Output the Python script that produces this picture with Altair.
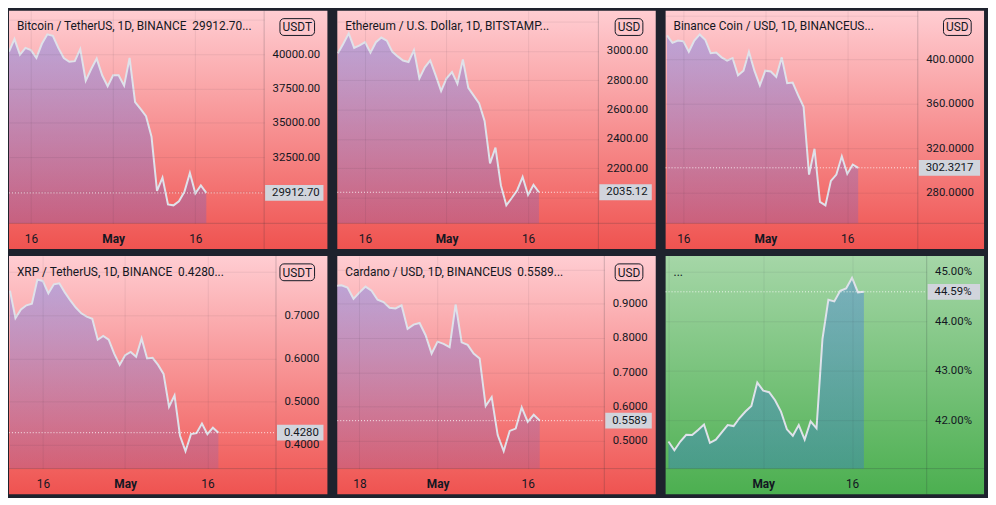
import altair as alt
import pandas as pd

# ---------------- values ----------------
BTC_START = "2022-04-12"
BTC_VALUES = [40183, 41099, 39954, 40458, 40298, 39725, 40756, 41443, 41328, 40458,
              39725, 39450, 39496, 40366, 38076, 38924, 39679, 38466, 37664, 38466,
              38466, 37710, 39725, 36519, 36015, 35489, 34000, 30061, 31023, 29077,
              29008, 29306, 29993, 31367, 29878, 30451, 29912.70]

ETH_START = "2022-04-11"
ETH_VALUES = [2985, 3049, 3120, 3021, 3039, 3060, 2989, 3060, 3092, 3071,
              2996, 2963, 2935, 2925, 3006, 2813, 2888, 2935, 2834, 2727,
              2813, 2856, 2776, 2942, 2748, 2695, 2641, 2522, 2232, 2340,
              2082, 1946, 1996, 2049, 2140, 2017, 2086, 2035.12]

BNB_START = "2022-04-13"
BNB_VALUES = [421.9, 415.1, 417.1, 416.5, 407.1, 417.1, 422.7, 417.9, 405.7, 406.3,
              402.0, 399.1, 401.4, 385.8, 390.0, 407.1, 390.0, 376.7, 390.0, 389.2,
              384.4, 402.0, 378.7, 379.2, 367.9, 357.4, 296.2, 319.5, 271.5, 268.4,
              290.5, 296.2, 312.7, 296.8, 305.3, 302.3217]

XRP_START = "2022-04-10"
XRP_VALUES = [0.7567, 0.6933, 0.7134, 0.7231, 0.7269, 0.7828, 0.7791, 0.7507, 0.7716, 0.7739,
              0.7530, 0.7343, 0.7179, 0.7045, 0.6970, 0.6918, 0.6433, 0.6523, 0.6433, 0.6112,
              0.5851, 0.6075, 0.6150, 0.6038, 0.6463, 0.6000, 0.6015, 0.5851, 0.5642, 0.4881,
              0.5142, 0.4210, 0.3852, 0.4247, 0.4270, 0.4493, 0.4247, 0.4396, 0.4280]

ADA_START = "2022-04-14"
ADA_VALUES = [0.9516, 0.9535, 0.9470, 0.9141, 0.9329, 0.9498, 0.9376, 0.9113, 0.9047, 0.8878,
              0.8859, 0.8953, 0.8268, 0.8390, 0.8437, 0.8080, 0.7545, 0.7892, 0.7826, 0.7732,
              0.8981, 0.7873, 0.7798, 0.7545, 0.7404, 0.6014, 0.6277, 0.5169, 0.4700, 0.5291,
              0.5357, 0.5977, 0.5554, 0.5761, 0.5589]

DOM_START = "2022-04-15"
DOM_VALUES = [41.578, 41.403, 41.578, 41.714, 41.708, 41.811, 41.922, 41.552, 41.617, 41.760,
              41.909, 41.889, 42.051, 42.181, 42.291, 42.764, 42.602, 42.570, 42.408, 42.181,
              41.824, 41.695, 41.909, 41.617, 41.986, 41.844, 43.639, 44.430, 44.397, 44.611,
              44.657, 44.870, 44.579, 44.59]

TITLES = ["Bitcoin / TetherUS, 1D, BINANCE\u00a0\u00a029912.70...",
          "Ethereum / U.S. Dollar, 1D, BITSTAMP...",
          "Binance Coin / USD, 1D, BINANCEUS...",
          "XRP / TetherUS, 1D, BINANCE\u00a0\u00a00.4280...",
          "Cardano / USD, 1D, BINANCEUS\u00a0\u00a00.5589...",
          "..."]
BADGES = ["USDT", "USD", "USD", "USDT", "USD", ""]
LAST_LABELS = ["29912.70", "2035.12", "302.3217", "0.4280", "0.5589", "44.59%"]

Y_TICKS = [[30000, 32500, 35000, 37500, 40000, 42500],
           [2000, 2200, 2400, 2600, 2800, 3000, 3200],
           [280, 320, 360, 400, 440],
           [0.4, 0.5, 0.6, 0.7, 0.8],
           [0.5, 0.6, 0.7, 0.8, 0.9, 1.0],
           [42, 43, 44, 45]]
Y_HIDDEN = [[30000, 42500], [2000, 3200], [440], [0.8], [1.0], []]
Y_FORMATS = [".2f", ".2f", ".4f", ".4f", ".4f", ".2f"]
Y_SUFFIX = ["", "", "", "", "", "%"]
Y_DOMAINS = [[27700, 43160], [1823, 3275], [252.2, 444.1],
             [0.3449, 0.8373], [0.4192, 1.039], [41.034, 45.311]]

X_TICKS = [["2022-04-16", "2022-05-01", "2022-05-16"],
           ["2022-04-16", "2022-05-01", "2022-05-16"],
           ["2022-04-16", "2022-05-01", "2022-05-16"],
           ["2022-04-16", "2022-05-01", "2022-05-16"],
           ["2022-04-18", "2022-05-01", "2022-05-16"],
           ["2022-04-15", "2022-05-01", "2022-05-16"]]
X_DOMAINS = [["2022-04-12 00:00", "2022-05-28 13:00"],
             ["2022-04-10 21:30", "2022-05-28 22:30"],
             ["2022-04-12 18:00", "2022-05-28 21:40"],
             ["2022-04-09 19:40", "2022-05-28 12:00"],
             ["2022-04-14 07:12", "2022-05-28 18:00"],
             ["2022-04-14 12:30", "2022-05-28 14:24"]]

STARTS = [BTC_START, ETH_START, BNB_START, XRP_START, ADA_START, DOM_START]
SERIES = [BTC_VALUES, ETH_VALUES, BNB_VALUES, XRP_VALUES, ADA_VALUES, DOM_VALUES]
THEMES = ["red", "red", "red", "red", "red", "green"]

# ---------------- layout / style ----------------
PLOT_W = [258, 264, 255, 270, 270, 264]
AXIS_W = [64, 58, 67, 52, 52, 58]
PH = 241
EB = 26
HP = PH - EB
GAP = 5
FONT = "Roboto"
TXT = "#131722"
GRID = "rgba(42,46,57,0.08)"
SEP = "rgba(42,46,57,0.22)"
LINE = "#dfe2ea"
BG = {"red": ("#ffcdd2", "#ef5350", "#fec6cb"), "green": ("#a5d6a7", "#4caf50", "#a2d4a4")}


def dt(s):
    d, *t = s.split(" ")
    y, m, dd = map(int, d.split("-"))
    if t:
        hh, mm = map(int, t[0].split(":"))
        return alt.DateTime(year=y, month=m, date=dd, hours=hh, minutes=mm)
    return alt.DateTime(year=y, month=m, date=dd)


def vgrad(c0, c1):
    return alt.Gradient(gradient="linear",
                        stops=[alt.GradientStop(color=c0, offset=0),
                               alt.GradientStop(color=c1, offset=1)],
                        x1=1, x2=1, y1=0, y2=1)


def panel(i):
    W, E = PLOT_W[i], AXIS_W[i]
    top, bot, badge_fill = BG[THEMES[i]]
    vals = SERIES[i]
    df = pd.DataFrame({"d": pd.date_range(STARTS[i], periods=len(vals), freq="D"), "v": vals})
    last = pd.DataFrame({"v": [vals[-1]], "label": [LAST_LABELS[i]]})
    one = pd.DataFrame({"t": [TITLES[i]], "b": [BADGES[i]]})

    xscale = alt.Scale(domain=[dt(X_DOMAINS[i][0]), dt(X_DOMAINS[i][1])])
    yscale = alt.Scale(domain=Y_DOMAINS[i], zero=False, nice=False)

    hidden = "[" + ",".join(str(h) for h in Y_HIDDEN[i]) + "]"
    label_expr = (f"indexof({hidden}, datum.value) >= 0 ? '' : "
                  f"format(datum.value, '{Y_FORMATS[i]}') + '{Y_SUFFIX[i]}'")

    xaxis = alt.Axis(values=[dt(s) for s in X_TICKS[i]], title=None, domain=False, ticks=False,
                     tickSize=0, labelPadding=10, grid=True, gridColor=GRID, labelColor=TXT,
                     labelFont=FONT, labelFontSize=12, labelFlush=False, labelOverlap=True,
                     labelBound=True, zindex=1,
                     labelExpr="date(datum.value) == 1 ? timeFormat(datum.value, '%b') : timeFormat(datum.value, '%d')",
                     labelFontWeight={"condition": {"test": "date(datum.value) == 1", "value": "bold"},
                                      "value": "normal"})
    yaxis = alt.Axis(orient="right", values=Y_TICKS[i], labelExpr=label_expr, title=None,
                     domain=False, ticks=False, tickSize=0, labelPadding=8, grid=True,
                     gridColor=GRID, labelColor=TXT, labelFont=FONT, labelFontSize=11.5,
                     labelFlush=False, labelOverlap=False, zindex=1, labelAlign="left",
                     labelBaseline="middle")

    X = alt.X("d:T", scale=xscale, axis=xaxis)
    Y = alt.Y("v:Q", scale=yscale, axis=yaxis)

    bg = alt.Chart(one).mark_rect(fill=vgrad(top, bot)).encode(
        x=alt.value(0), x2=alt.value(W + E), y=alt.value(0), y2=alt.value(PH))
    hsep = alt.Chart(one).mark_rule(color=SEP, strokeWidth=1).encode(
        x=alt.value(0), x2=alt.value(W + E), y=alt.value(HP))
    vsep = alt.Chart(one).mark_rule(color=SEP, strokeWidth=1).encode(
        x=alt.value(W), y=alt.value(0), y2=alt.value(PH))

    area = alt.Chart(df).mark_area(clip=True, color=vgrad("rgba(41,98,255,0.30)", "rgba(41,98,255,0.02)")).encode(
        x=X, y=Y, y2=alt.value(HP))
    line = alt.Chart(df).mark_line(clip=True, color=LINE, strokeWidth=2).encode(x=X, y=Y)

    dotted = alt.Chart(last).mark_rule(color="#ffffff", opacity=0.85, strokeDash=[1, 2], strokeWidth=1).encode(
        x=alt.value(0), x2=alt.value(W), y=Y)
    box = alt.Chart(last).mark_rule(color="#d1d4dc", strokeWidth=16, strokeCap="butt").encode(
        x=alt.value(W + 1), x2=alt.value(W + E - 4), y=Y)
    boxtxt = alt.Chart(last).mark_text(align="left", baseline="middle", font=FONT, fontSize=11.5,
                                       color=TXT).encode(x=alt.value(W + 8), y=Y, text="label:N")

    title = alt.Chart(one).mark_text(align="left", baseline="middle", font=FONT, fontSize=12,
                                     color=TXT).encode(x=alt.value(8), y=alt.value(16), text="t:N")
    layers = [bg, hsep, vsep, area, line, dotted, box, boxtxt, title]

    if BADGES[i]:
        bw = 35 if len(BADGES[i]) == 4 else 28
        right = W + E - 13
        brect = alt.Chart(one).mark_rect(fill=badge_fill, stroke=TXT, strokeWidth=1, cornerRadius=4).encode(
            x=alt.value(right - bw), x2=alt.value(right), y=alt.value(8), y2=alt.value(25))
        btxt = alt.Chart(one).mark_text(align="center", baseline="middle", font=FONT, fontSize=12,
                                        color=TXT).encode(x=alt.value(right - bw / 2), y=alt.value(17), text="b:N")
        layers += [brect, btxt]

    return alt.layer(*layers).properties(width=W, height=HP)


row1 = alt.hconcat(panel(0), panel(1), panel(2), spacing=GAP)
row2 = alt.hconcat(panel(3), panel(4), panel(5), spacing=GAP)
chart = alt.vconcat(row1, row2, spacing=GAP).properties(
    background="#1e222d", padding={"top": -2, "bottom": 0, "left": 0, "right": 0}
).configure_view(stroke=None)

chart.save("out.html", embed_options={"renderer": "svg", "actions": False})
